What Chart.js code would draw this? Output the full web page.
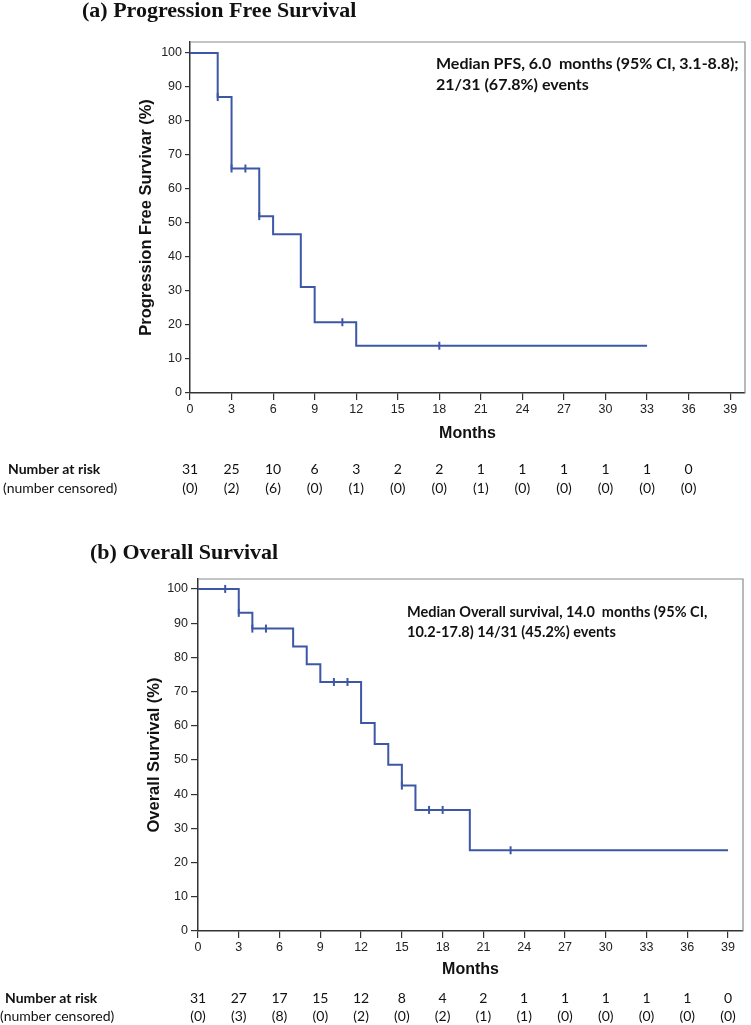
<!DOCTYPE html>
<html>
<head>
<meta charset="utf-8">
<script src="https://cdn.jsdelivr.net/npm/chart.js@4.4.1/dist/chart.umd.min.js"></script>
<style>
  body { margin: 0; background: #fff; width: 751px; height: 1025px; position: relative; overflow: hidden; }
  canvas { position: absolute; left: 0; }
  .title { position: absolute; font: bold 22px "Liberation Serif", serif; white-space: nowrap; color: #111; }
  .note { position: absolute; font: bold 16px Lato, sans-serif; white-space: pre; color: #111; }
</style>
</head>
<body>
<canvas id="pfsChart" width="751" height="520" style="top:0"></canvas>
<canvas id="osChart" width="751" height="505" style="top:520px"></canvas>
<div class="title" style="left:82px;top:-3px">(a) Progression Free Survival</div>
<div class="title" style="left:90px;top:539px">(b) Overall Survival</div>
<div class="note" style="left:436px;top:52px;line-height:21px">Median PFS, 6.0  months (95% CI, 3.1-8.8);
21/31 (67.8%) events</div>
<div class="note" style="left:407px;top:602px;line-height:20px;font-size:14.5px">Median Overall survival, 14.0  months (95% CI,
10.2-17.8) 14/31 (45.2%) events</div>
<script>
/* ---------- DATA ---------- */
const monthTicks = [0, 3, 6, 9, 12, 15, 18, 21, 24, 27, 30, 33, 36, 39];
const percentTicks = [0, 10, 20, 30, 40, 50, 60, 70, 80, 90, 100];

// (a) progression free survival
const pfsTimes = [0, 2, 3, 5, 6, 8, 9, 12, 33];
const pfsSurv = [100, 87, 66, 52, 46.7, 31.2, 20.8, 13.9, 13.9];
const pfsCensorTimes = [2, 3, 4, 5, 11, 18];
const pfsCensorSurv = [87, 66, 66, 52, 20.8, 13.9];
const pfsRiskTimes = [0, 3, 6, 9, 12, 15, 18, 21, 24, 27, 30, 33, 36];
const pfsAtRisk = [31, 25, 10, 6, 3, 2, 2, 1, 1, 1, 1, 1, 0];
const pfsCensored = [0, 2, 6, 0, 1, 0, 0, 1, 0, 0, 0, 0, 0];

// (b) overall survival
const osTimes = [0, 3, 4, 7, 8, 9, 12, 13, 14, 15, 16, 20, 39];
const osSurv = [100, 93, 88.4, 83.2, 78, 72.8, 60.8, 54.7, 48.6, 42.5, 35.4, 23.6, 23.6];
const osCensorTimes = [2, 3, 4, 5, 10, 11, 15, 17, 18, 23];
const osCensorSurv = [100, 93, 88.4, 88.4, 72.8, 72.8, 42.5, 35.4, 35.4, 23.6];
const osRiskTimes = [0, 3, 6, 9, 12, 15, 18, 21, 24, 27, 30, 33, 36, 39];
const osAtRisk = [31, 27, 17, 15, 12, 8, 4, 2, 1, 1, 1, 1, 1, 0];
const osCensored = [0, 3, 8, 0, 2, 0, 2, 1, 1, 0, 0, 0, 0, 0];

const LINE = "#3d57a7";
const AXIS = "#333";

/* ---------- PLUGINS ---------- */
// grey top/right frame around the plot
const framePlugin = {
  id: "frame",
  beforeDatasetsDraw(chart) {
    const { ctx, chartArea: a } = chart;
    ctx.save();
    ctx.strokeStyle = "#8a8a8a";
    ctx.lineWidth = 1.2;
    ctx.beginPath();
    ctx.moveTo(a.left, a.top);
    ctx.lineTo(a.right, a.top);
    ctx.lineTo(a.right, a.bottom);
    ctx.stroke();
    ctx.restore();
  }
};

// number-at-risk table under the x axis
const riskPlugin = {
  id: "riskTable",
  afterDraw(chart, args, opts) {
    const { ctx } = chart;
    const x = chart.scales.x;
    ctx.save();
    ctx.fillStyle = "#111";
    ctx.textBaseline = "middle";
    ctx.textAlign = "left";
    ctx.font = "bold 14px Lato, sans-serif";
    ctx.fillText("Number at risk", opts.labelX + 5, opts.rowY[0]);
    ctx.font = "14px Lato, sans-serif";
    ctx.fillText("(number censored)", opts.labelX, opts.rowY[1]);
    ctx.textAlign = "center";
    opts.times.forEach((t, i) => {
      const px = x.getPixelForValue(t);
      ctx.fillText(String(opts.atRisk[i]), px, opts.rowY[0]);
      ctx.fillText("(" + opts.censored[i] + ")", px, opts.rowY[1]);
    });
    ctx.restore();
  }
};

/* ---------- CHART BUILDER ---------- */
function kmChart(id, cfg) {
  const curve = cfg.times.map((t, i) => ({ x: t, y: cfg.surv[i] }));
  const marks = cfg.censorTimes.map((t, i) => ({ x: t, y: cfg.censorSurv[i] }));

  return new Chart(document.getElementById(id), {
    type: "line",
    data: {
      datasets: [
        {
          data: curve,
          borderColor: LINE,
          borderWidth: 2,
          stepped: "before",
          pointRadius: 0,
          fill: false
        },
        {
          type: "scatter",
          data: marks,
          pointStyle: "line",
          rotation: 90,
          radius: 4,
          borderColor: LINE,
          borderWidth: 2
        }
      ]
    },
    options: {
      responsive: false,
      animation: false,
      layout: { padding: cfg.padding },
      plugins: {
        legend: { display: false },
        tooltip: { enabled: false },
        riskTable: cfg.risk
      },
      scales: {
        x: {
          type: "linear",
          min: 0,
          max: cfg.xMax,
          afterBuildTicks: s => { s.ticks = monthTicks.map(v => ({ value: v })); },
          afterFit: s => { s.height = 60; },
          grid: { drawOnChartArea: false, drawTicks: true, tickLength: 7, color: AXIS, lineWidth: 1.2 },
          border: { display: true, color: AXIS, width: 1.5 },
          ticks: { color: "#222", padding: 2, font: { family: "Liberation Sans", size: 12.5 }, maxRotation: 0 },
          title: {
            display: true,
            text: "Months",
            color: "#111",
            font: { family: "Liberation Sans", size: 16, weight: "bold" },
            padding: { top: 0, bottom: cfg.xTitlePad }
          }
        },
        y: {
          min: 0,
          max: cfg.yMax,
          afterBuildTicks: s => { s.ticks = percentTicks.map(v => ({ value: v })); },
          afterFit: s => { s.width = 60; },
          grid: { drawOnChartArea: false, drawTicks: true, tickLength: cfg.yTickLen, color: AXIS, lineWidth: 1.2 },
          border: { display: true, color: AXIS, width: 1.5 },
          ticks: { color: "#222", padding: 3, font: { family: "Liberation Sans", size: 12.5 } },
          title: {
            display: true,
            text: cfg.yTitle,
            color: "#111",
            font: { family: "Liberation Sans", size: 16.5, weight: "bold" },
            padding: { top: 7, bottom: 0 }
          }
        }
      }
    },
    plugins: [framePlugin, riskPlugin]
  });
}

kmChart("pfsChart", {
  times: pfsTimes, surv: pfsSurv,
  censorTimes: pfsCensorTimes, censorSurv: pfsCensorSurv,
  yTitle: "Progression Free Survivar (%)",
  xMax: 40.07, yMax: 103.2, yTickLen: 5, xTitlePad: 10,
  padding: { left: 130, right: 6, top: 42, bottom: 67 },
  risk: { times: pfsRiskTimes, atRisk: pfsAtRisk, censored: pfsCensored, rowY: [469, 488], labelX: 3 }
});

kmChart("osChart", {
  times: osTimes, surv: osSurv,
  censorTimes: osCensorTimes, censorSurv: osCensorSurv,
  yTitle: "Overall Survival (%)",
  xMax: 40.1, yMax: 102.9, yTickLen: 7, xTitlePad: 12,
  padding: { left: 138, right: 8, top: 59, bottom: 34 },
  risk: { times: osRiskTimes, atRisk: osAtRisk, censored: osCensored, rowY: [478, 496], labelX: 0 }
});
</script>
</body>
</html>
